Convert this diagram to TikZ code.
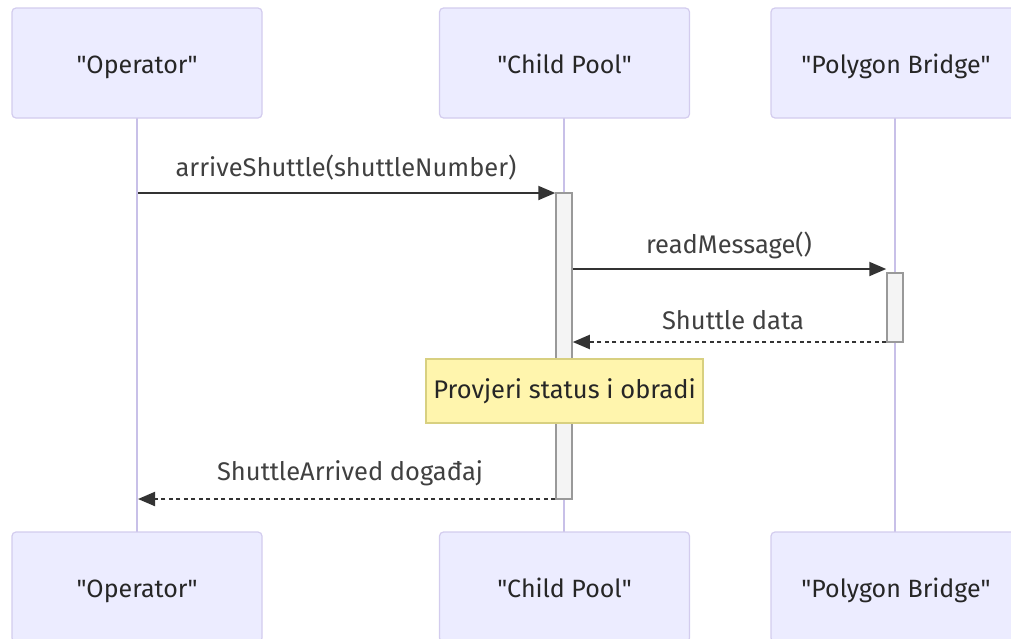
\documentclass[tikz,border=0pt]{standalone}
\usepackage{fontspec}
\setmainfont{Fira Sans}
\usetikzlibrary{arrows.meta}
\definecolor{actfill}{HTML}{ECECFF}
\definecolor{actdraw}{HTML}{D3CCEE}
\definecolor{lifeline}{HTML}{C8C0E8}
\definecolor{notefill}{HTML}{FFF5AD}
\definecolor{notedraw}{HTML}{D8D080}
\definecolor{barfill}{HTML}{F4F4F4}
\definecolor{bardraw}{HTML}{999999}
\definecolor{msg}{HTML}{333333}
\font\plainquotefont="Fira Sans" at 25pt
\newcommand{\qq}{{\plainquotefont\symbol{34}}}
\tikzset{
  actor/.style={draw=actdraw, fill=actfill, line width=1.2pt, rounded corners=4pt, minimum width=250pt, minimum height=110pt, inner sep=0pt, font=\fontsize{25}{30}\selectfont, text=black!85, text height=27pt, text depth=6pt},
  life/.style={draw=lifeline, line width=1.5pt},
  bar/.style={draw=bardraw, fill=barfill, line width=1.5pt, minimum width=16pt, inner sep=0pt},
  notebox/.style={draw=notedraw, fill=notefill, line width=1.2pt, minimum width=277pt, minimum height=64pt, inner sep=0pt, font=\fontsize{25.5}{30}\selectfont, text=black!85},
  solidmsg/.style={draw=msg, line width=2pt, -{Triangle[length=17pt,width=14pt]}},
  dashmsg/.style={draw=msg, line width=2pt, dash pattern=on 4pt off 3.5pt, -{Triangle[length=17pt,width=14pt]}},
  lbl/.style={font=\fontsize{25.5}{30}\selectfont, text=black!75, inner sep=0pt}
}
\begin{document}
\begin{tikzpicture}[x=1pt,y=-1pt]
\useasboundingbox (0,0) rectangle (1011,638);
\clip (0,0) rectangle (1011,638);
% lifelines
\coordinate (opT) at (137,118); \coordinate (opB) at (137,532);
\coordinate (cpT) at (564,118); \coordinate (cpB) at (564,532);
\coordinate (pbT) at (895,118); \coordinate (pbB) at (895,532);
\draw[life] (opT) -- (opB);
\draw[life] (cpT) -- (cpB);
\draw[life] (pbT) -- (pbB);
% actors top
\node[actor] (op1) at (137,63) {\qq Operator\qq};
\node[actor] (cp1) at (564.5,63) {\qq Child Pool\qq};
\node[actor] (pb1) at (896,63) {\qq Polygon Bridge\qq};
% actors bottom
\node[actor] (op2) at (137,587) {\qq Operator\qq};
\node[actor] (cp2) at (564.5,587) {\qq Child Pool\qq};
\node[actor] (pb2) at (896,587) {\qq Polygon Bridge\qq};
% activation bars
\node[bar, minimum height=306pt] (cpbar) at (564,346) {};
\node[bar, minimum height=69pt] (pbbar) at (895,307.5) {};
% coordinates
\coordinate (m1s) at (138,193); \coordinate (m1e) at (cpbar.west |- 0,193);
\coordinate (m2s) at (cpbar.east |- 0,269); \coordinate (m2e) at (pbbar.west |- 0,269);
\coordinate (m3s) at (pbbar.west |- 0,342); \coordinate (m3e) at (cpbar.east |- 0,342);
\coordinate (m4s) at (cpbar.west |- 0,499); \coordinate (m4e) at (138,499);
% messages
\draw[solidmsg] (m1s) -- (m1e);
\node[lbl] (l1) at (346,168) {arriveShuttle(shuttleNumber)};
\draw[solidmsg] (m2s) -- (m2e);
\node[lbl] (l2) at (729,245) {readMessage()};
\draw[dashmsg] (m3s) -- (m3e);
\node[lbl] (l3) at (733,320) {Shuttle data};
% note
\node[notebox] (note) at (564.5,391) {Provjeri status i obradi};
\draw[dashmsg] (m4s) -- (m4e);
\node[lbl] (l4) at (350,473) {ShuttleArrived događaj};
\end{tikzpicture}
\end{document}
